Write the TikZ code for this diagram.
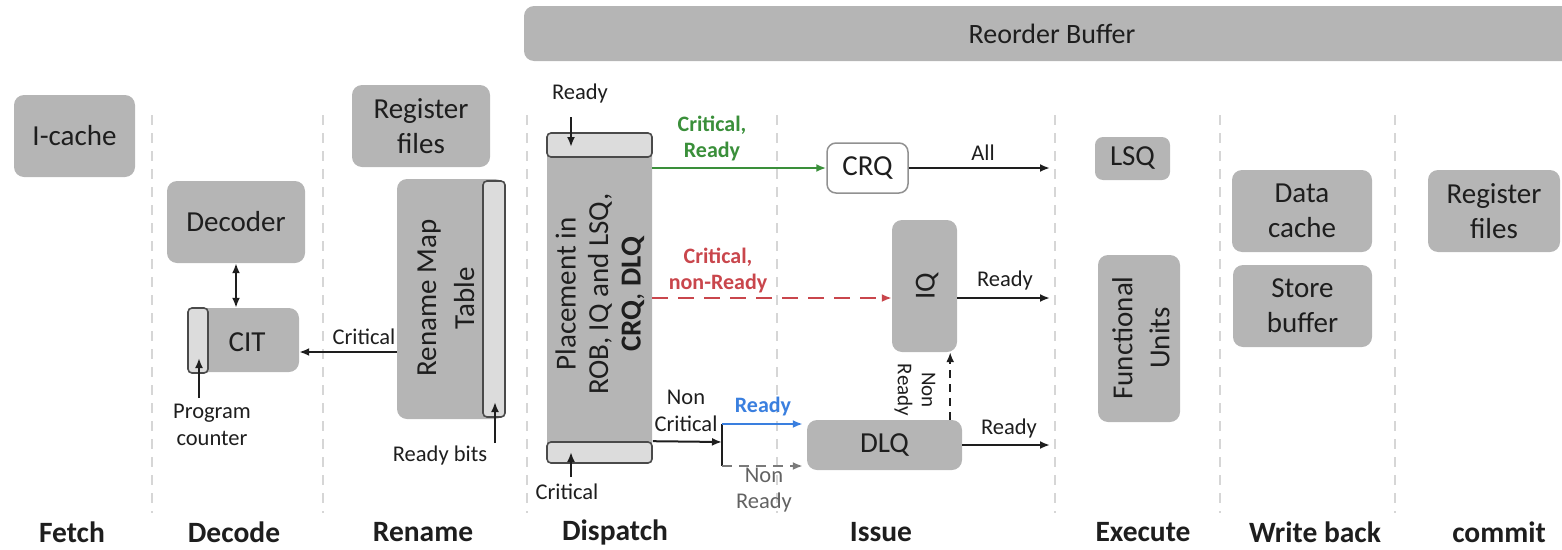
\documentclass[tikz,border=0pt]{standalone}
\usepackage{fontspec}
\setmainfont{Carlito}
\usetikzlibrary{arrows.meta,calc}

\definecolor{boxgrey}{HTML}{B5B5B5}
\definecolor{barlight}{HTML}{DCDCDC}
\definecolor{bardark}{HTML}{4A4A4A}
\definecolor{ink}{HTML}{1E1E1E}
\definecolor{divgrey}{HTML}{D6D6D6}
\definecolor{critgreen}{HTML}{3A8F3A}
\definecolor{critred}{HTML}{C9464C}
\definecolor{readyblue}{HTML}{3A7FDF}
\definecolor{nrgrey}{HTML}{7A7A7A}

\tikzset{
  gbox/.style={fill=boxgrey, rounded corners=10pt, inner sep=0pt, text=ink,
    font=\fontsize{29}{35}\selectfont, align=center},
  wbox/.style={fill=white, draw=boxgrey!80!black, line width=1.5pt, rounded corners=9pt,
    inner sep=0pt, text=ink, font=\fontsize{29}{35}\selectfont},
  lbar/.style={fill=barlight, draw=bardark, line width=1.6pt, rounded corners=4pt, inner sep=0pt},
  boxtext/.style={text=ink, font=\fontsize{29}{35}\selectfont, align=center, inner sep=0pt},
  small/.style={font=\fontsize{22.5}{26.5}\selectfont, text=ink, align=center, inner sep=0pt},
  smallbold/.style={font=\bfseries\fontsize{22}{26}\selectfont, align=center, inner sep=0pt},
  stage/.style={font=\bfseries\fontsize{29.5}{34}\selectfont, text=ink, inner sep=0pt},
  divider/.style={draw=divgrey, line width=1.6pt, dash pattern=on 10pt off 8pt},
  conn/.style={line width=2pt, draw=ink},
  cconn/.style={line width=2.6pt},
}

\begin{document}
\begin{tikzpicture}[x=1pt, y=-1pt, >={Latex[length=10pt,width=8pt]}]
\useasboundingbox (0,0) rectangle (1562,549);
\clip (0,0) rectangle (1562,549);

% stage dividers
\foreach \xd in {152,323,527,777,1055,1220,1395}
  \draw[divider] (\xd,115) -- (\xd,513);

% reorder buffer spanning the back end
\node[gbox, minimum width=1056pt, minimum height=55pt] (rob) at (1052,33.5) {};
\node[boxtext, font=\fontsize{28}{32}\selectfont] (robtext) at (1052,34) {Reorder Buffer};

% fetch
\node[gbox, minimum width=121pt, minimum height=82pt] (icache) at (74.5,136) {I-cache};

% decode
\node[gbox, minimum width=138pt, minimum height=82pt] (decoder) at (236,222) {Decoder};
\node[gbox, minimum width=111pt, minimum height=64pt] (cit) at (243.5,340) {};
\node[lbar, minimum width=20pt, minimum height=65pt] (citbar) at (198,340.5) {};
\node[boxtext] (cittext) at (247,342) {CIT};
\node[small] (pc) at (212,425) {Program\\counter};

% rename
\node[gbox, minimum width=138pt, minimum height=82pt] (regren) at (421,126) {Register\\files};
\node[gbox, minimum width=108pt, minimum height=240pt] (rmt) at (451,299) {};
\node[lbar, minimum width=22pt, minimum height=236pt] (rmtbar) at (494,299) {};
\node[boxtext, rotate=90, font=\fontsize{29}{38}\selectfont] (rmttext) at (446,298) {Rename Map\\Table};
\node[small] (readybits) at (440,455) {Ready bits};
\node[small] (critren) at (364,337) {Critical};

% dispatch
\node[fill=boxgrey, rounded corners=3pt, minimum width=105pt, minimum height=330pt, inner sep=0pt] (place) at (599.5,298) {};
\node[lbar, minimum width=105pt, minimum height=24pt] (ptop) at (599.5,145) {};
\node[lbar, minimum width=105pt, minimum height=21pt] (pbot) at (599.5,452.5) {};
\node[boxtext, rotate=90, font=\fontsize{29}{32.5}\selectfont] (placetext) at (600,294)
  {Placement in\\ROB, IQ and LSQ,\\\textbf{CRQ}, \textbf{DLQ}};
\node[small] (readyin) at (580,93) {Ready};
\node[small] (critin) at (567,492) {Critical};

% issue
\node[wbox, minimum width=81pt, minimum height=50pt] (crq) at (867.5,168) {CRQ};
\node[gbox, minimum width=65pt, minimum height=132pt] (iq) at (924.5,286) {};
\node[boxtext, rotate=90] (iqtext) at (927,286) {IQ};
\node[gbox, minimum width=155pt, minimum height=50pt] (dlq) at (884.5,445) {DLQ};

% execute
\node[gbox, minimum width=75pt, minimum height=43pt, rounded corners=8pt] (lsq) at (1132.5,158.5) {LSQ};
\node[gbox, minimum width=82pt, minimum height=167pt] (fu) at (1139,338.5) {};
\node[boxtext, rotate=90, font=\fontsize{29}{37}\selectfont] (futext) at (1141,338) {Functional\\Units};

% write back
\node[gbox, minimum width=140pt, minimum height=82pt] (dcache) at (1302,211) {Data\\cache};
\node[gbox, minimum width=139pt, minimum height=82pt] (sbuf) at (1302.5,306) {Store\\buffer};

% commit
\node[gbox, minimum width=132pt, minimum height=82pt] (regcom) at (1494,211) {Register\\files};

% free ends of connectors
\coordinate (pcTail) at (199,398);
\coordinate (pcTip) at (199,358);
\coordinate (rbTail) at (495,443);
\coordinate (rbTip) at (495,402);
\coordinate (critY) at (0,352);
\coordinate (rdTail) at (571,117);
\coordinate (rdTip) at (571,147);
\coordinate (ciTail) at (571,477);
\coordinate (ciTip) at (571,452);
\coordinate (split) at (722,442);
\coordinate (splitT) at (722,424);
\coordinate (splitB) at (722,466);
\coordinate (allEnd) at (1050,168);
\coordinate (iqEnd) at (1050,298);
\coordinate (dlqEnd) at (1050,445);
\coordinate (nrB) at ($(dlq.north east)+(-12,0)$);

% decode / rename connectors
\draw[conn, <->] (decoder.south) -- (decoder.south |- cit.north);
\draw[conn, ->] (pcTail) -- (pcTip);
\draw[conn, ->] (rbTail) -- (rbTip);
\draw[conn, ->] (rmt.west |- critY) -- (cit.east |- critY);

% dispatch inputs
\draw[conn, ->] (rdTail) -- (rdTip);
\draw[conn, ->] (ciTail) -- (ciTip);

% dispatch to issue queues
\draw[cconn, draw=critgreen, ->] (place.east |- crq.west) -- (crq.west);
\node[smallbold, text=critgreen] (lblcr) at (712,138) {Critical,\\Ready};

\draw[cconn, draw=critred, dash pattern=on 16pt off 10pt, ->] (place.east) -- (place.east -| iq.west);
\node[smallbold, text=critred] (lblcnr) at (718,270) {Critical,\\non-Ready};

\draw[conn, ->] (pbot.north east) -- (split);
\node[small] (lblnc) at (686,411) {Non\\Critical};
\draw[conn] (splitT) -- (splitB);
\draw[cconn, draw=readyblue, ->, shorten >=4pt] (splitT) -- (splitT -| dlq.west);
\node[smallbold, text=readyblue] (lblrd) at (763,407) {Ready};
\draw[conn, draw=nrgrey, dash pattern=on 10pt off 7pt, ->, shorten >=4pt] (splitB) -- (splitB -| dlq.west);
\node[small, text=nrgrey!80!black] (lblnr) at (764,490) {Non\\Ready};

% issue to execute
\draw[conn, ->] (crq.east) -- (allEnd);
\node[small] (lblall) at (983,153) {All};
\draw[conn, ->] (place.east -| iq.east) -- (iqEnd);
\node[small] (lbliq) at (1005,280) {Ready};
\draw[conn, ->] (dlq.east) -- (dlqEnd);
\node[small] (lbldlq) at (1009,428) {Ready};
\draw[line width=2pt, draw=ink, dash pattern=on 8pt off 6pt, ->] (nrB) -- (nrB |- iq.south);
\node[small, rotate=-90, font=\fontsize{21}{24}\selectfont] (lbldq) at (915,390) {Non\\Ready};

% stage names
\node[stage] (sFetch) at (72,532) {Fetch};
\node[stage] (sDecode) at (234,532) {Decode};
\node[stage] (sRename) at (423,532) {Rename};
\node[stage] (sDispatch) at (615,532) {Dispatch};
\node[stage] (sIssue) at (881,532) {Issue};
\node[stage] (sExecute) at (1143,532) {Execute};
\node[stage] (sWrite) at (1315,532) {Write back};
\node[stage] (sCommit) at (1499,532) {commit};
\end{tikzpicture}
\end{document}
